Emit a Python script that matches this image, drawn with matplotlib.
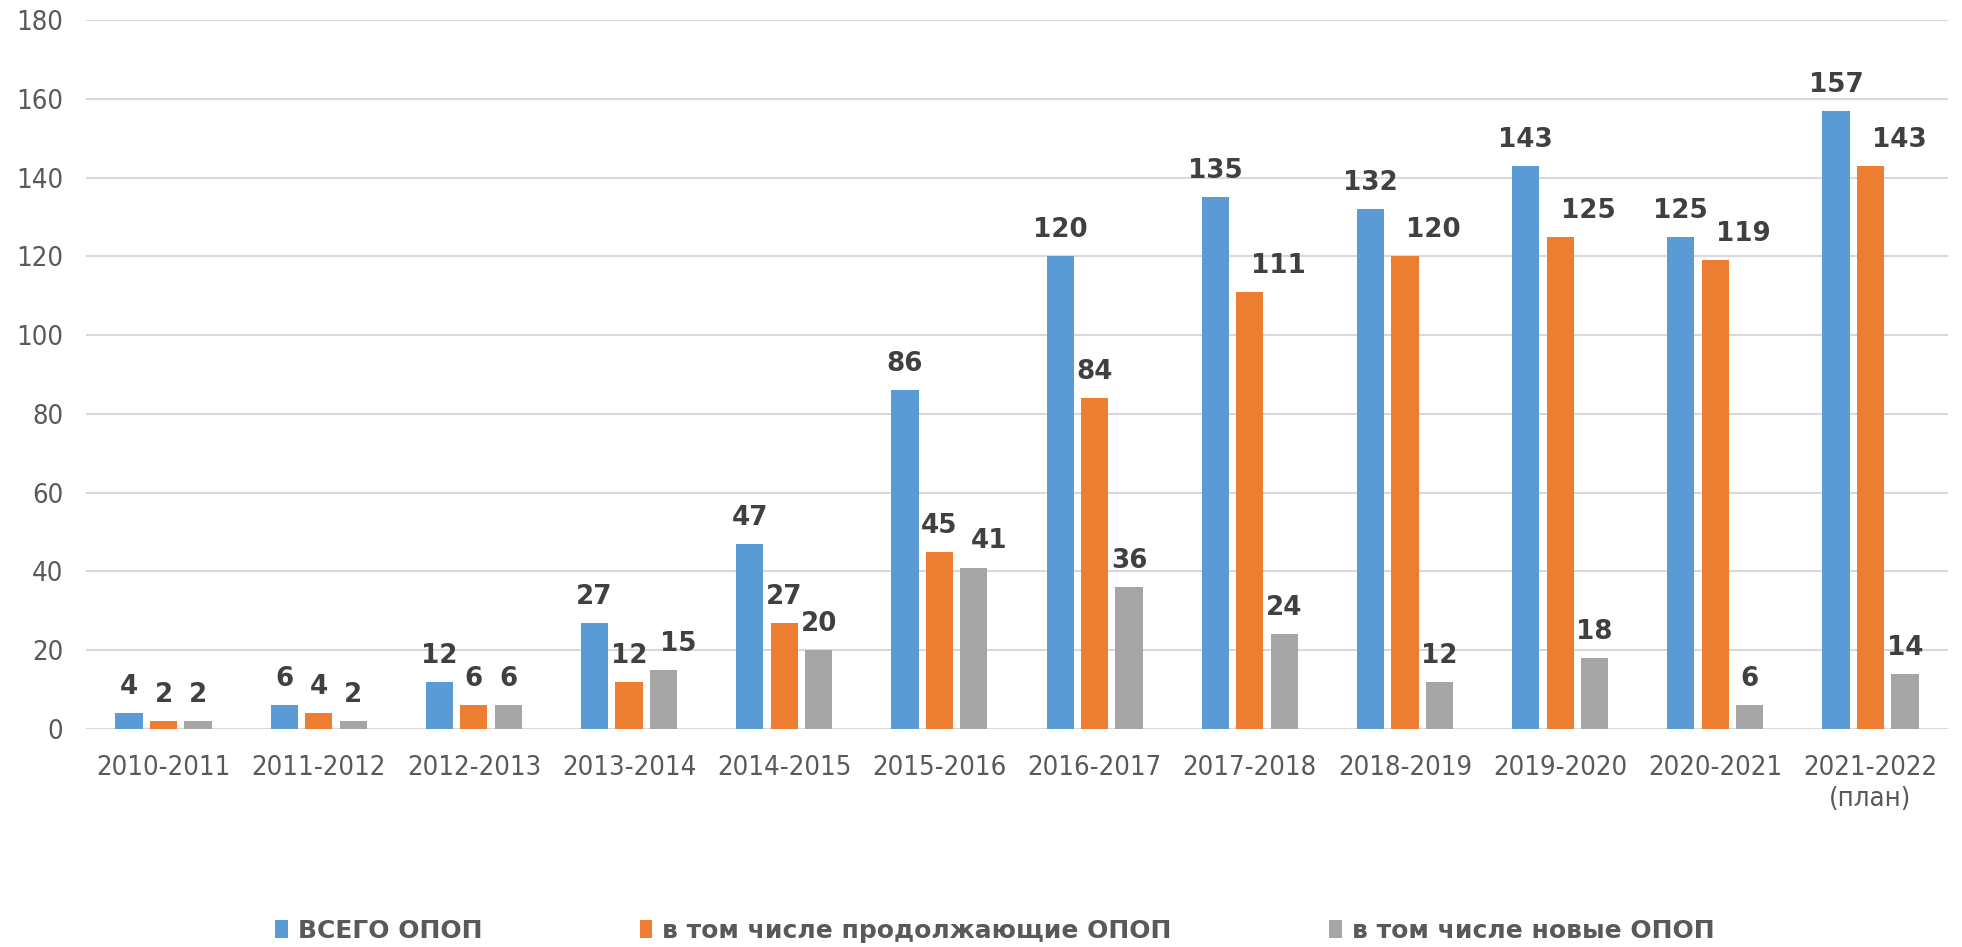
import numpy as np
import matplotlib.pyplot as plt
from matplotlib import font_manager as fm

#%% data

years = ['2010-2011', '2011-2012', '2012-2013', '2013-2014', '2014-2015', '2015-2016',
         '2016-2017', '2017-2018', '2018-2019', '2019-2020', '2020-2021', '2021-2022\n(план)']
total = [4, 6, 12, 27, 47, 86, 120, 135, 132, 143, 125, 157]
cont = [2, 4, 6, 12, 27, 45, 84, 111, 120, 125, 119, 143]
new = [2, 2, 6, 15, 20, 41, 36, 24, 12, 18, 6, 14]
names = ['ВСЕГО ОПОП', 'в том числе продолжающие ОПОП', 'в том числе новые ОПОП']
colors = ['#5B9BD5', '#ED7D31', '#A5A5A5']

#%% plotting

plt.rcParams['font.family'] = ['DejaVu Sans']
cond = fm.FontProperties(family='DejaVu Sans', stretch='condensed', size=19.7)

fig = plt.figure(figsize=(19.62, 9.47), dpi=100)
ax = fig.add_axes([0.0438, 0.2302, 0.9491, 0.7487])

x = np.arange(len(years))
w = 0.175
step = 0.222

bars, labels = [], []
for k, (vals, name, c) in enumerate(zip([total, cont, new], names, colors)):
    bs = ax.bar(x + (k - 1)*step, vals, w, color=c, label=name, zorder=3)
    bars.append(bs)
    row = []
    for b, v in zip(bs, vals):
        t = ax.annotate(str(v), (b.get_x() + b.get_width()/2, v), xytext=(0, 9.4),
                        textcoords='offset points', ha='center', va='bottom',
                        fontsize=18.8, fontweight='bold', color='#404040')
        row.append(t)
    labels.append(row)

ax.set_xlim(-0.5, len(years) - 0.5)
ax.set_ylim(0, 180)
ax.set_yticks(range(0, 181, 20))
ax.set_xticks(x)
ax.set_xticklabels(years, fontproperties=cond, color='#595959', linespacing=1.25)
ax.set_yticklabels([str(v) for v in range(0, 181, 20)], fontproperties=cond, color='#595959')
ax.tick_params(axis='both', length=0)
ax.tick_params(axis='x', pad=19)
ax.tick_params(axis='y', pad=16.5)
ax.yaxis.grid(True, color='#D9D9D9', linewidth=1.5, zorder=0)
for s in ax.spines.values():
    s.set_visible(False)

fig.legend(loc='center', bbox_to_anchor=(0.507, 0.017), ncol=3, frameon=False,
           prop={'size': 18.0, 'weight': 'bold'}, labelcolor='#595959',
           handlelength=0.5, handleheight=0.7, handletextpad=0.4, columnspacing=6.3)

# move labels right when they hit a neighbour label or bar (as Excel does)
fig.canvas.draw()
r = fig.canvas.get_renderer()
for i in range(len(years)):
    placed = []
    for k in range(3):
        t = labels[k][i]
        bb = t.get_window_extent(r)
        x0, x1, y0, y1 = bb.x0, bb.x1, bb.y0 + 4.5, bb.y1
        obst = [(a0, a1, b0, b1, 13) for a0, a1, b0, b1 in placed]
        for j in range(k):
            e = bars[j][i].get_window_extent(r)
            obst.append((e.x0, e.x1, e.y0, e.y1, 22))
        shift = 0
        for a0, a1, b0, b1, gap in obst:
            if x0 < a1 and x1 > a0 and y0 < b1 and y1 > b0:
                shift = max(shift, a1 - x0 + gap)
        placed.append((x0 + shift, x1 + shift, y0, y1))
        if shift:
            t.xyann = (t.xyann[0] + shift*72/fig.dpi, t.xyann[1])

fig.savefig('out.png', dpi=100)
